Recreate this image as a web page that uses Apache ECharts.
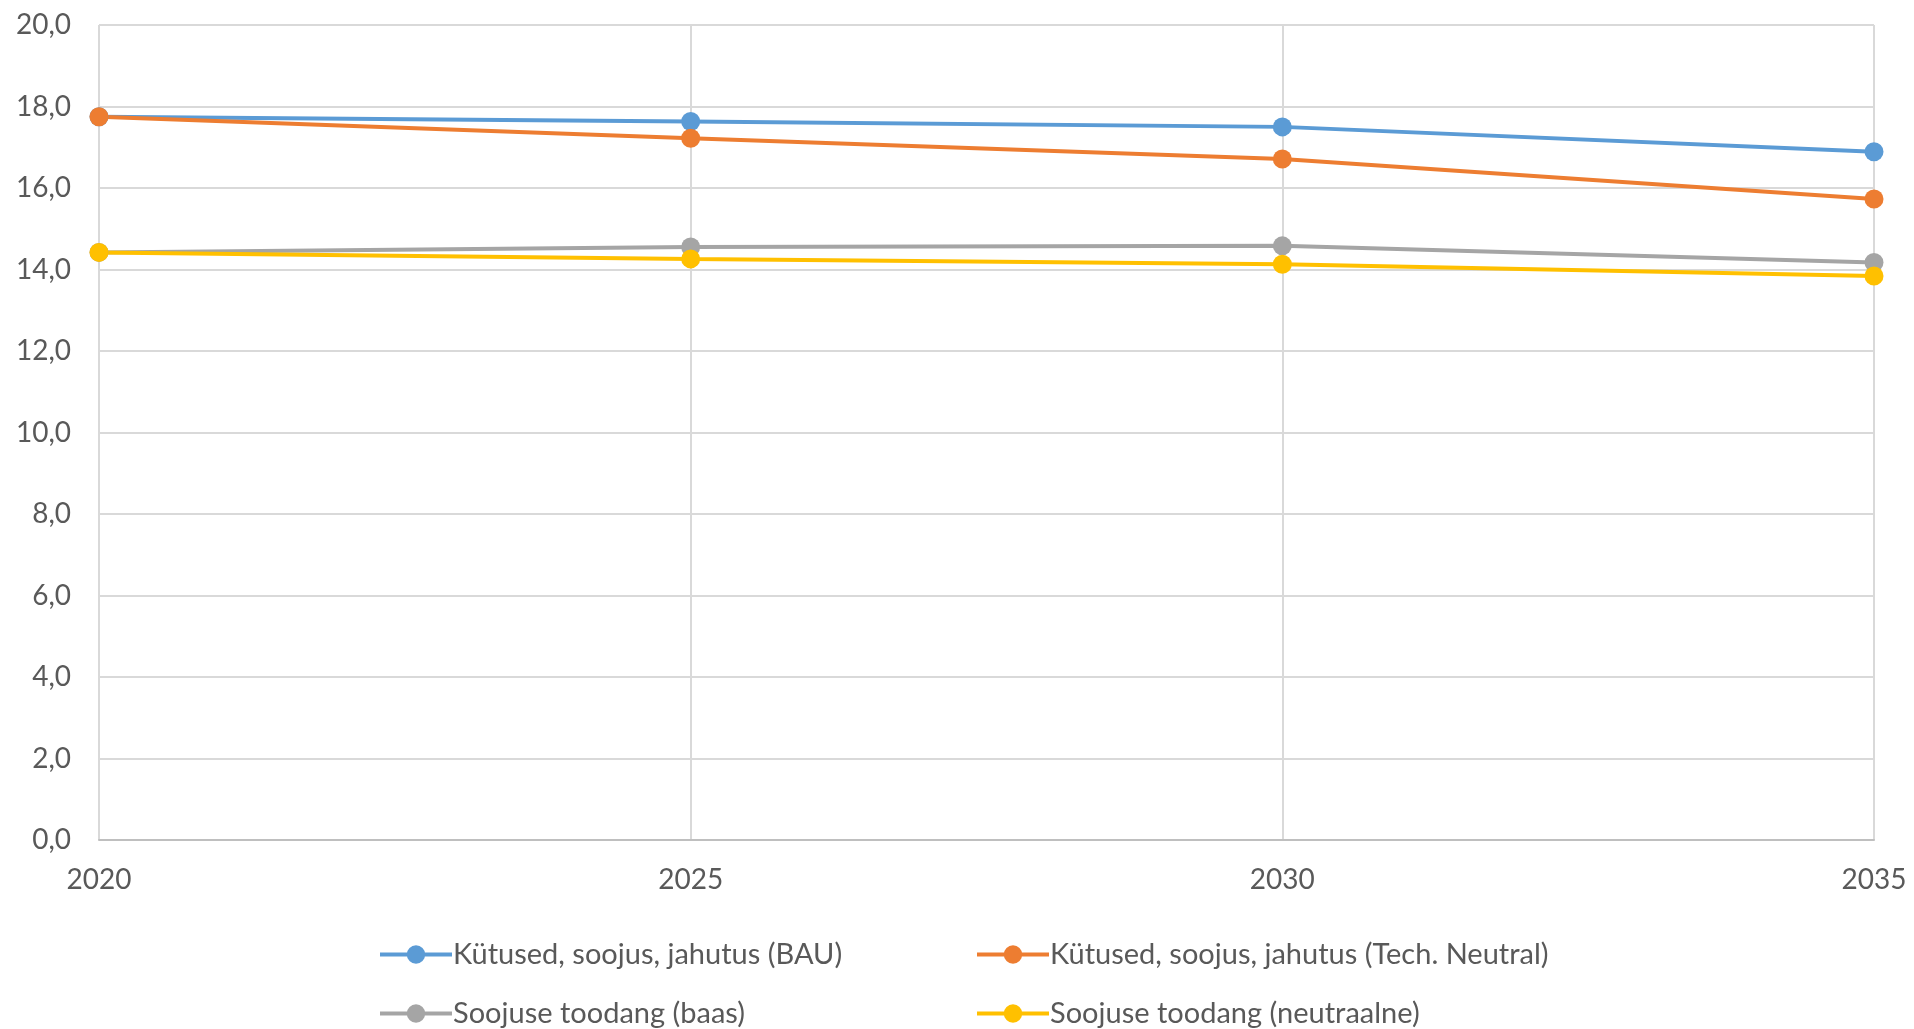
<!DOCTYPE html>
<html>
<head>
<meta charset="utf-8">
<script src="https://cdn.jsdelivr.net/npm/echarts@6/dist/echarts.min.js"></script>
<style>
  html, body { margin: 0; padding: 0; background: #fff; }
  #chart { width: 1914px; height: 1029px; }
</style>
</head>
<body>
<div id="chart"></div>
<script>
// Years on the horizontal axis
const years = ['2020', '2025', '2030', '2035'];

// Series values
const bau = [17.75, 17.63, 17.50, 16.89];
const techNeutral = [17.75, 17.22, 16.71, 15.73];
const heatBase = [14.42, 14.55, 14.58, 14.17];
const heatNeutral = [14.42, 14.26, 14.13, 13.84];

const names = [
  'Kütused, soojus, jahutus (BAU)',
  'Kütused, soojus, jahutus (Tech. Neutral)',
  'Soojuse toodang (baas)',
  'Soojuse toodang (neutraalne)'
];
const colors = ['#5B9BD5', '#ED7D31', '#A5A5A5', '#FFC000'];
const values = [bau, techNeutral, heatBase, heatNeutral];

const FONT = 'Lato, "Open Sans", sans-serif';
const TEXT = '#595959';
const FS = 28;

const chart = echarts.init(document.getElementById('chart'));

const legendPos = [
  { left: 373, top: 935 },
  { left: 970, top: 935 },
  { left: 373, top: 994 },
  { left: 970, top: 994 }
];

chart.setOption({
  animation: false,
  backgroundColor: '#fff',
  color: colors,
  grid: { left: 99, right: 40, top: 25, bottom: 189 },
  legend: names.map((n, i) => ({
    data: [n],
    left: legendPos[i].left,
    top: legendPos[i].top,
    itemWidth: 72,
    itemHeight: 23,
    itemGap: 0,
    lineStyle: { width: 4 },
    textStyle: { fontFamily: FONT, fontSize: 29, color: TEXT, padding: [0, 0, 0, -4] }
  })),
  xAxis: {
    type: 'category',
    data: years,
    boundaryGap: false,
    axisLine: { lineStyle: { color: '#BFBFBF', width: 2 } },
    axisTick: { show: false },
    axisLabel: { fontFamily: FONT, fontSize: FS, color: TEXT, margin: 26,
      showMinLabel: true, showMaxLabel: true },
    splitLine: { show: true, lineStyle: { color: '#D9D9D9', width: 2 } }
  },
  yAxis: {
    type: 'value',
    min: 0,
    max: 20,
    interval: 2,
    axisLine: { show: false },
    axisTick: { show: false },
    axisLabel: {
      fontFamily: FONT, fontSize: FS, color: TEXT, margin: 28,
      formatter: v => v.toFixed(1).replace('.', ',')
    },
    splitLine: { lineStyle: { color: '#D9D9D9', width: 2 } }
  },
  series: names.map((n, i) => ({
    name: n,
    type: 'line',
    data: values[i],
    symbol: 'circle',
    symbolSize: 19,
    lineStyle: { width: 4, color: colors[i] },
    itemStyle: { color: colors[i] }
  }))
});
</script>
</body>
</html>
